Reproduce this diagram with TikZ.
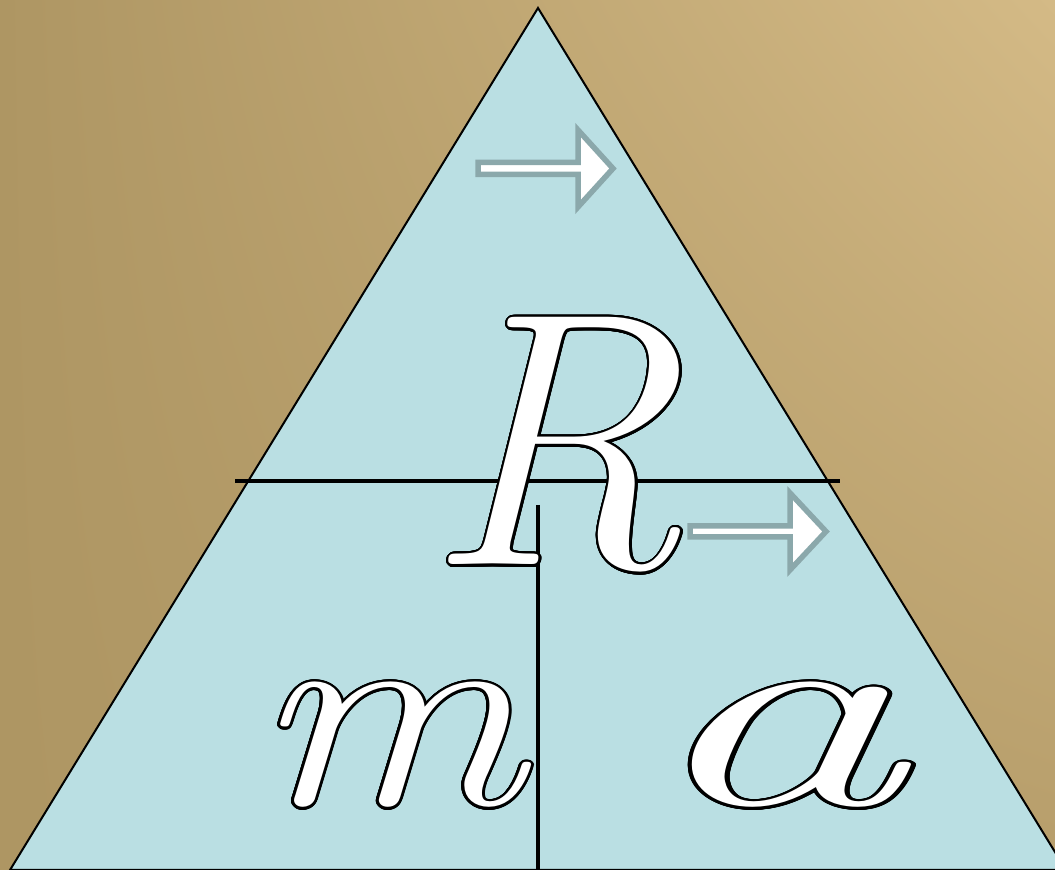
\documentclass[tikz,border=0pt]{standalone}
\usepackage{contour}
\usetikzlibrary{shadings}
\contourlength{1.1pt}
\contournumber{32}

\definecolor{sanddark}{HTML}{AE9663}
\definecolor{sandlight}{HTML}{D4BA86}
\definecolor{sandmid}{HTML}{B79E6B}
\definecolor{paleblue}{HTML}{BADFE3}
\definecolor{arrowgrey}{HTML}{8BA8AB}

\begin{document}
\begin{tikzpicture}[x=0.5pt,y=0.5pt,
  letter/.style={inner sep=0pt,anchor=base,text=white},
  vecarrow/.style={draw=arrowgrey,fill=white,line width=2.75pt,miter limit=10},
  divider/.style={line width=1.6pt}]

\useasboundingbox (0,0) rectangle (1055,870);
\clip (0,0) rectangle (1055,870);

% background
\shade[upper left=sanddark,upper right=sandlight,lower left=sanddark,lower right=sandmid]
  (0,0) rectangle (1055,870);

% triangle
\draw[fill=paleblue,line width=1pt] (538,862) -- (10,0) -- (1066,0) -- cycle;

% dividing lines
\coordinate (hl) at (235,389);
\coordinate (hr) at (840,389);
\coordinate (vt) at (538,365);
\coordinate (vb) at (538,0);
\draw[divider] (hl) -- (hr);
\draw[divider] (vt) -- (vb);

% letters
\node[letter] (R) at (554,305) {\fontsize{181}{181}\selectfont\itshape\contour{black}{R}};
\node[letter] (m) at (388,65) {\scalebox{1.22}[1]{\fontsize{139}{139}\selectfont\itshape\contour{black}{m}}};
\node[letter] (a) at (773,65) {\scalebox{1.9}[1]{\fontsize{139}{139}\selectfont\itshape\contour{black}{a}}};

% vector arrows
\draw[vecarrow] (478,707.5) -- (578,707.5) -- (578,740) -- (613,701.5)
  -- (578,663) -- (578,695.5) -- (478,695.5) -- cycle;
\draw[vecarrow] (690,344) -- (790,344) -- (790,377) -- (826,338.5)
  -- (790,300) -- (790,333) -- (690,333) -- cycle;
\end{tikzpicture}
\end{document}
